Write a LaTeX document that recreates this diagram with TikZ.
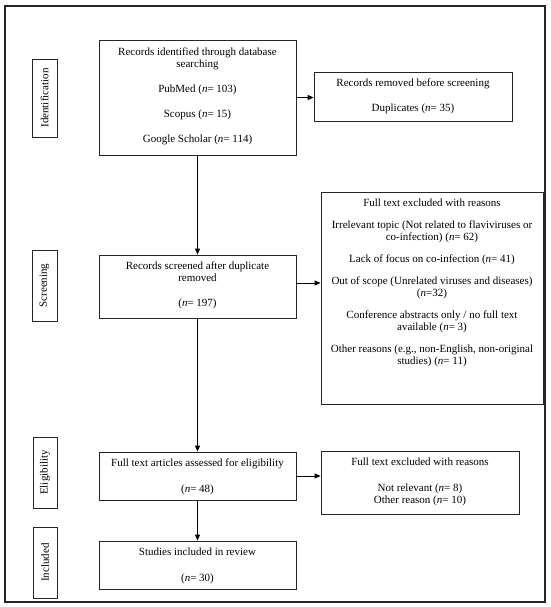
\documentclass[tikz,border=0pt]{standalone}
\usepackage{fontspec}
\setmainfont{Liberation Serif}
\usetikzlibrary{arrows.meta}
\newcommand{\nn}{\textit{n}}
\newcommand{\fbx}[4]{\parbox[c][#2][t]{#1}{\centering\vspace*{#3}\strut #4\par}}
\tikzset{
  box/.style={draw=black!85, line width=0.8pt, inner sep=0pt, font=\fontsize{11}{12}\selectfont},
  side/.style={draw=black!85, line width=0.8pt, inner sep=0pt, rotate=90, font=\fontsize{11}{12}\selectfont},
  arr/.style={draw=black, line width=0.9pt, -{Triangle[length=6pt,width=5pt]}},
  framebox/.style={draw=black!85, line width=1.2pt}
}
\begin{document}
\begin{tikzpicture}[x=1pt,y=-1pt]
\useasboundingbox (0,0) rectangle (550,607);
\draw[framebox] (5,6) rectangle (545,602);

\node[box] (b1) at (197.5,97.5) {\fbx{197pt}{115pt}{7.6pt}{Records identified through database\\searching\\[13pt]PubMed (\nn= 103)\\[13pt]Scopus (\nn= 15)\\[13pt]Google Scholar (\nn= 114)}};
\node[box] (b2) at (413,96.5) {\fbx{198pt}{49pt}{6.6pt}{Records removed before screening\\[13pt]Duplicates (\nn= 35)}};
\node[box] (b3) at (197.5,286.5) {\fbx{197pt}{63pt}{5.6pt}{Records screened after duplicate\\removed\\[13.5pt](\nn= 197)}};
\node[box] (b4) at (432,298) {\fbx{222pt}{212pt}{5.6pt}{Full text excluded with reasons\\[10pt]Irrelevant topic (Not related to flaviviruses or\\co-infection) (\nn= 62)\\[10pt]Lack of focus on co-infection (\nn= 41)\\[10pt]Out of scope (Unrelated viruses and diseases)\\(\nn=32)\\[10pt]Conference abstracts only / no full text\\available (\nn= 3)\\[10pt]Other reasons (e.g., non-English, non-original\\studies) (\nn= 11)}};
\node[box] (b5) at (197.5,476) {\fbx{197pt}{48pt}{5.6pt}{Full text articles assessed for eligibility\\[14pt](\nn= 48)}};
\node[box] (b6) at (420,482.5) {\fbx{198pt}{63pt}{5.6pt}{Full text excluded with reasons\\[14pt]Not relevant (\nn= 8)\\Other reason (\nn= 10)}};
\node[box] (b7) at (197.5,565) {\fbx{197pt}{48pt}{5.6pt}{Studies included in review\\[14pt](\nn= 30)}};

\node[side, minimum width=78pt, minimum height=25pt] (s1) at (44.5,98) {Identification};
\node[side, minimum width=71pt, minimum height=25pt] (s2) at (44.5,285.5) {Screening};
\node[side, minimum width=71pt, minimum height=24pt] (s3) at (45,472.5) {Eligibility};
\node[side, minimum width=71pt, minimum height=24pt] (s4) at (45,562.5) {Included};

\draw[arr] (b1) -- (b3);
\draw[arr] (b3) -- (b5);
\draw[arr] (b5) -- (b7);
\draw[arr] (b1.east) -- (b1.east -| b2.west);
\draw[arr] ([yshift=3.5pt]b3.east) -- ([yshift=3.5pt]b3.east -| b4.west);
\draw[arr] (b5.east) -- (b5.east -| b6.west);
\end{tikzpicture}
\end{document}
